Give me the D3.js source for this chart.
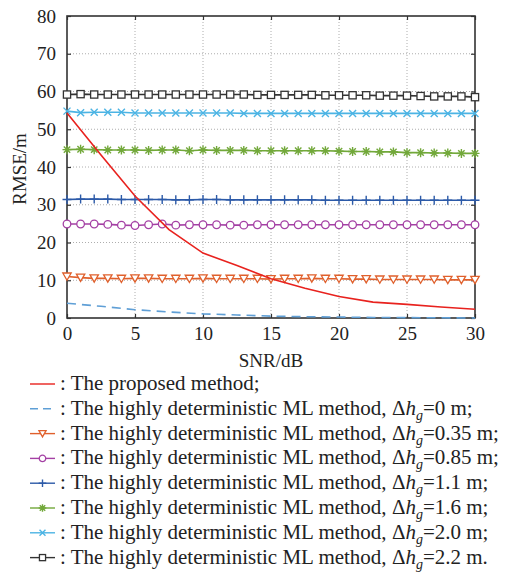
<!DOCTYPE html>
<html>
<head>
<meta charset="UTF-8">
<style>
  body { margin: 0; background: #fff; }
  svg text { font-family: "Liberation Serif", "Times New Roman", Times, "Tinos", "DejaVu Serif", serif; fill: #222; }
</style>
</head>
<body>
<div id="chart"></div>
<script src="https://cdnjs.cloudflare.com/ajax/libs/d3/7.8.5/d3.min.js"></script>
<script>
// SNR axis (dB), one point per dB
const snr = d3.range(0, 31);
const xTicks = [0, 5, 10, 15, 20, 25, 30];
const yTicks = [0, 10, 20, 30, 40, 50, 60, 70, 80];

// proposed method (sampled every 2.5 dB)
const snrProposed = [0, 2.5, 5, 7.5, 10, 12.5, 15, 17.5, 20, 22.5, 25, 27.5, 30];
const rmseProposed = [54.3, 43.2, 32.3, 23.4, 17.2, 13.9, 10.4, 7.9, 5.7, 4.2, 3.6, 2.9, 2.3];

// highly deterministic ML, dh=0 m (dashed)
const snrMl0 = [0, 2.5, 5, 7.5, 10, 12.5, 15, 17.5, 20, 22.5, 25, 27.5, 30];
const rmseMl0 = [3.9, 3.1, 2.2, 1.6, 1.1, 0.8, 0.5, 0.35, 0.25, 0.15, 0.1, 0.05, 0.0];

const rmse035 = [11.0, 10.7, 10.5, 10.5, 10.4, 10.5, 10.5, 10.4, 10.4, 10.4, 10.5, 10.4, 10.4, 10.4, 10.4, 10.3,
  10.4, 10.4, 10.5, 10.4, 10.4, 10.3, 10.3, 10.2, 10.2, 10.2, 10.2, 10.2, 10.1, 10.1, 10.1];
const rmse085 = [24.9, 24.9, 24.9, 24.8, 24.6, 24.5, 24.7, 24.9, 24.6, 24.7, 24.7, 24.7, 24.6, 24.6, 24.7, 24.7,
  24.7, 24.7, 24.7, 24.7, 24.7, 24.7, 24.7, 24.7, 24.7, 24.7, 24.7, 24.7, 24.7, 24.7, 24.7];
const rmse11 = [31.4, 31.5, 31.5, 31.5, 31.4, 31.4, 31.4, 31.4, 31.3, 31.3, 31.4, 31.4, 31.3, 31.3, 31.3, 31.3,
  31.3, 31.3, 31.3, 31.2, 31.2, 31.2, 31.2, 31.2, 31.2, 31.2, 31.2, 31.2, 31.2, 31.2, 31.2];
const rmse16 = [44.6, 44.7, 44.6, 44.5, 44.5, 44.5, 44.4, 44.5, 44.5, 44.3, 44.5, 44.4, 44.4, 44.4, 44.3, 44.3,
  44.3, 44.3, 44.3, 44.3, 44.2, 44.1, 44.1, 44.0, 44.0, 43.8, 43.8, 43.7, 43.7, 43.6, 43.6];
const rmse20 = [54.8, 54.4, 54.5, 54.5, 54.5, 54.3, 54.3, 54.3, 54.3, 54.3, 54.3, 54.3, 54.3, 54.2, 54.2, 54.2,
  54.2, 54.2, 54.2, 54.2, 54.2, 54.2, 54.2, 54.2, 54.2, 54.2, 54.2, 54.2, 54.2, 54.2, 54.2];
const rmse22 = [59.2, 59.3, 59.2, 59.2, 59.2, 59.2, 59.2, 59.2, 59.2, 59.2, 59.2, 59.2, 59.2, 59.2, 59.1, 59.1,
  59.1, 59.1, 59.1, 59.0, 59.0, 59.0, 59.0, 58.9, 58.9, 58.9, 58.8, 58.7, 58.7, 58.7, 58.5];

const legendLabels = [
  "The proposed method;",
  "The highly deterministic ML method, ",
  "The highly deterministic ML method, ",
  "The highly deterministic ML method, ",
  "The highly deterministic ML method, ",
  "The highly deterministic ML method, ",
  "The highly deterministic ML method, ",
  "The highly deterministic ML method, "
];
const legendDh = [null, "0 m;", "0.35 m;", "0.85 m;", "1.1 m;", "1.6 m;", "2.0 m;", "2.2 m."];

const series = [
  { x: snrProposed, y: rmseProposed, color: "#e8221e", marker: null, dash: null },
  { x: snrMl0, y: rmseMl0, color: "#5f9fd6", marker: null, dash: "9,6" },
  { x: snr, y: rmse035, color: "#e0602c", marker: "tri" },
  { x: snr, y: rmse085, color: "#a440a4", marker: "circle" },
  { x: snr, y: rmse11, color: "#2c5aa8", marker: "plus" },
  { x: snr, y: rmse16, color: "#72a83a", marker: "star" },
  { x: snr, y: rmse20, color: "#4cb4e4", marker: "cross" },
  { x: snr, y: rmse22, color: "#333333", marker: "square" }
];

const FONT = '"Liberation Serif", "Times New Roman", Times, "Tinos", "DejaVu Serif", serif';
const W = 508, H = 572;
const margin = { top: 16, left: 67, right: 33, bottom: 254 };
const pw = W - margin.left - margin.right;
const ph = H - margin.top - margin.bottom;

const svg = d3.select("#chart").append("svg").attr("width", W).attr("height", H)
  .attr("font-family", FONT);
const g = svg.append("g").attr("transform", `translate(${margin.left},${margin.top})`);

const x = d3.scaleLinear().domain([0, 30]).range([0, pw]);
const y = d3.scaleLinear().domain([0, 80]).range([ph, 0]);

// grid
g.append("g").selectAll("line").data(xTicks.slice(1, -1)).join("line")
  .attr("x1", d => x(d)).attr("x2", d => x(d)).attr("y1", 0).attr("y2", ph)
  .attr("stroke", "#999").attr("stroke-width", 0.8).attr("stroke-dasharray", "1,2");
g.append("g").selectAll("line").data(yTicks.slice(1, -1)).join("line")
  .attr("y1", d => y(d)).attr("y2", d => y(d)).attr("x1", 0).attr("x2", pw)
  .attr("stroke", "#999").attr("stroke-width", 0.8).attr("stroke-dasharray", "1,2");

// axes with inward ticks
const axisStyle = sel => {
  sel.attr("font-family", FONT);
  sel.select(".domain").remove();
  sel.selectAll("line").attr("stroke", "#333").attr("stroke-width", 1.2);
  sel.selectAll("text").style("font-family", FONT).style("font-size", "19px").attr("fill", "#222");
};
g.append("g").attr("transform", `translate(0,${ph})`)
  .call(d3.axisBottom(x).tickValues(xTicks).tickSizeInner(-4).tickSizeOuter(0).tickPadding(9))
  .call(axisStyle);
g.append("g")
  .call(d3.axisLeft(y).tickValues(yTicks).tickSizeInner(-4).tickSizeOuter(0).tickPadding(11))
  .call(axisStyle);
g.append("g")
  .call(d3.axisTop(x).tickValues(xTicks).tickSizeInner(-4).tickSizeOuter(0).tickFormat(""))
  .call(axisStyle);
g.append("g").attr("transform", `translate(${pw},0)`)
  .call(d3.axisRight(y).tickValues(yTicks).tickSizeInner(-4).tickSizeOuter(0).tickFormat(""))
  .call(axisStyle);

g.append("rect").attr("width", pw).attr("height", ph)
  .attr("fill", "none").attr("stroke", "#333").attr("stroke-width", 1.6);

// marker drawing
function drawMarker(sel, type, color, s) {
  s = s || 1;
  if (type === "tri") {
    sel.append("path").attr("d", `M${-4.2*s},${-3.5*s}L${4.2*s},${-3.5*s}L0,${3.8*s}Z`)
      .attr("fill", "#fff").attr("stroke", color).attr("stroke-width", 1.3);
  } else if (type === "circle") {
    sel.append("circle").attr("r", 3.8 * s).attr("fill", "#fff").attr("stroke", color).attr("stroke-width", 1.3);
  } else if (type === "square") {
    sel.append("rect").attr("x", -3.6*s).attr("y", -3.6*s).attr("width", 7.2*s).attr("height", 7.2*s)
      .attr("fill", "#fff").attr("stroke", color).attr("stroke-width", 1.3);
  } else if (type === "plus") {
    sel.append("path").attr("d", `M${-4.5*s},0H${4.5*s}M0,${-4.5*s}V${4.5*s}`)
      .attr("stroke", color).attr("stroke-width", 1.4);
  } else if (type === "cross") {
    sel.append("path").attr("d", `M${-3.5*s},${-3.5*s}L${3.5*s},${3.5*s}M${-3.5*s},${3.5*s}L${3.5*s},${-3.5*s}`)
      .attr("stroke", color).attr("stroke-width", 1.4);
  } else if (type === "star") {
    sel.append("path").attr("d", `M${-4.5*s},0H${4.5*s}M0,${-4.5*s}V${4.5*s}M${-3.2*s},${-3.2*s}L${3.2*s},${3.2*s}M${-3.2*s},${3.2*s}L${3.2*s},${-3.2*s}`)
      .attr("stroke", color).attr("stroke-width", 1.4);
  }
}

const line = d3.line().x(d => x(d[0])).y(d => y(d[1]));

// draw in reverse so the proposed method lies on top
series.slice().reverse().forEach(s => {
  const pts = s.x.map((v, i) => [v, s.y[i]]);
  g.append("path").datum(pts).attr("d", line)
    .attr("fill", "none").attr("stroke", s.color).attr("stroke-width", 1.6)
    .attr("stroke-dasharray", s.dash);
  if (s.marker) {
    pts.forEach(p => {
      const m = g.append("g").attr("transform", `translate(${x(p[0])},${y(p[1])})`);
      drawMarker(m, s.marker, s.color);
    });
  }
});

// axis titles
svg.append("text").attr("x", margin.left + pw / 2).attr("y", 367)
  .attr("text-anchor", "middle").style("font-size", "19px").text("SNR/dB");
svg.append("text").attr("transform", `translate(26,${margin.top + ph / 2 + 2}) rotate(-90)`)
  .attr("text-anchor", "middle").style("font-size", "19px").text("RMSE/m");

// legend
const leg = svg.append("g");
series.forEach((s, i) => {
  const ly = 384 + i * 24.8;
  leg.append("line").attr("x1", 30).attr("x2", 55).attr("y1", ly).attr("y2", ly)
    .attr("stroke", s.color).attr("stroke-width", 1.4).attr("stroke-dasharray", s.dash ? "8,5" : null);
  if (s.marker) {
    const m = leg.append("g").attr("transform", `translate(42.5,${ly})`);
    drawMarker(m, s.marker, s.color, 0.85);
  }
  const t = leg.append("text").attr("x", 60).attr("y", ly + 6).style("font-size", "21px");
  t.append("tspan").text(": " + legendLabels[i]);
  if (legendDh[i]) {
    t.append("tspan").text("\u0394");
    t.append("tspan").style("font-style", "italic").text("h");
    t.append("tspan").attr("dy", 5).style("font-size", "14px").style("font-style", "italic").text("g");
    t.append("tspan").attr("dy", -5).text("=" + legendDh[i]);
  }
});
</script>
</body>
</html>
